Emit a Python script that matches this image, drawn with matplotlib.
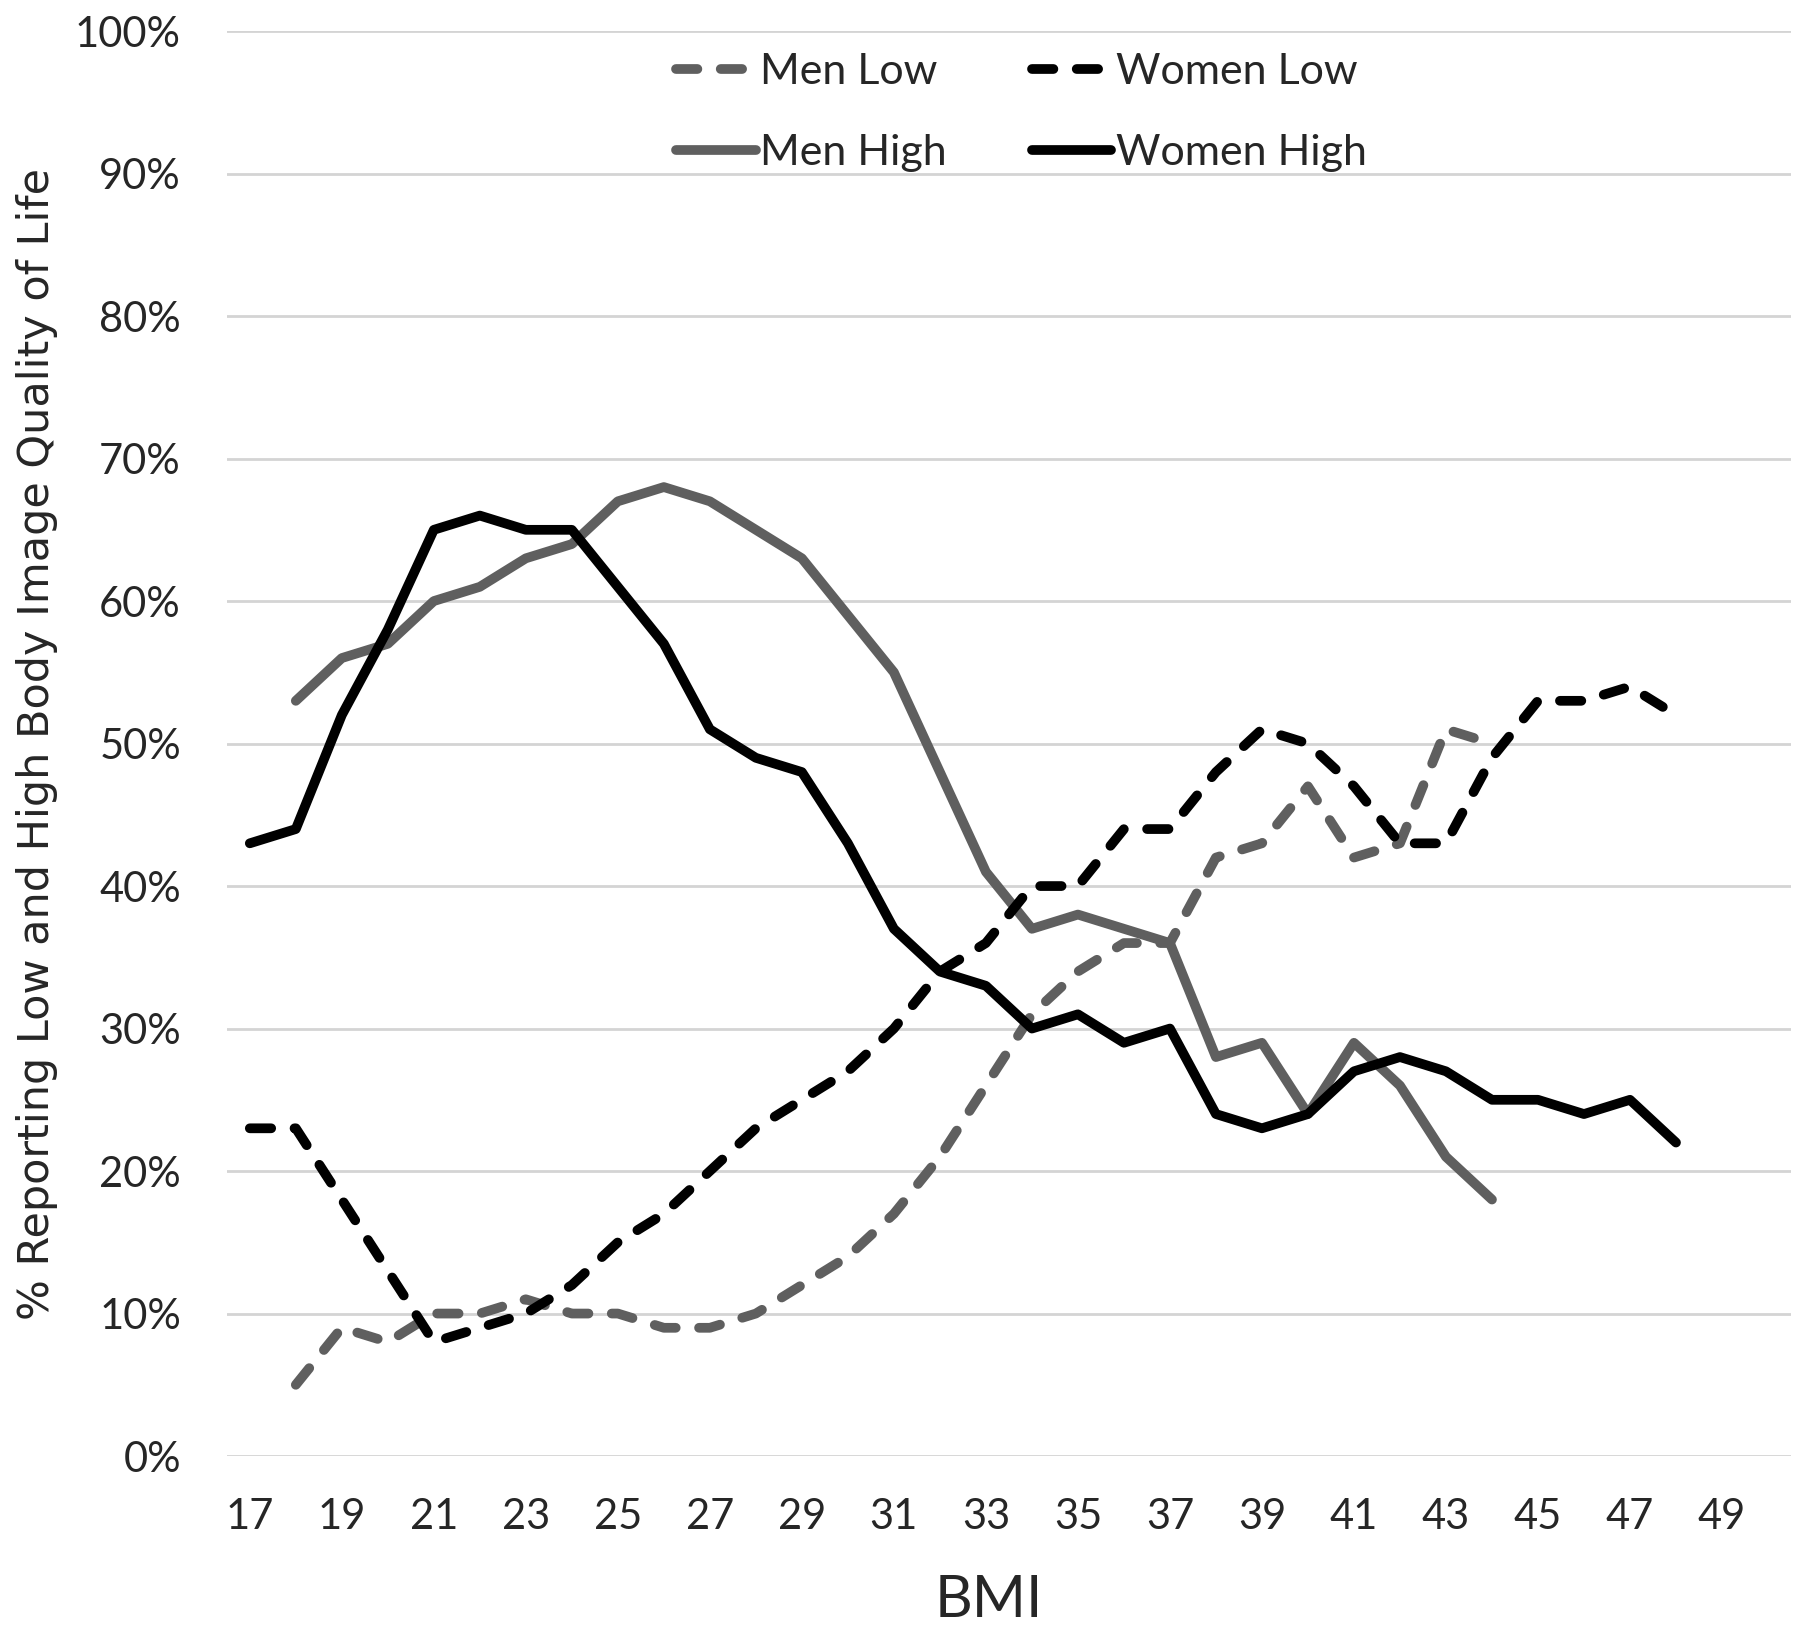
import numpy as np
import matplotlib
matplotlib.use('Agg')
from matplotlib import pyplot as plt

plt.rcParams['font.family'] = ['Lato', 'DejaVu Sans']

bmi = np.arange(17, 51)
nan = np.nan

# % reporting, BMI 17..50 (nan = no data)
men_low = [nan, 5, 9, 8, 10, 10, 11, 10, 10, 9, 9, 10, 12, 14, 17, 21, 26, 31, 34, 36,
           36, 42, 43, 47, 42, 43, 51, 50, nan, nan, nan, nan, nan, nan]
women_low = [23, 23, 18, 13, 8, 9, 10, 12, 15, 17, 20, 23, 25, 27, 30, 34, 36, 40, 40, 44,
             44, 48, 51, 50, 47, 43, 43, 49, 53, 53, 54, 52, nan, nan]
men_high = [nan, 53, 56, 57, 60, 61, 63, 64, 67, 68, 67, 65, 63, 59, 55, 48, 41, 37, 38, 37,
            36, 28, 29, 24, 29, 26, 21, 18, nan, nan, nan, nan, nan, nan]
women_high = [43, 44, 52, 58, 65, 66, 65, 65, 61, 57, 51, 49, 48, 43, 37, 34, 33, 30, 31, 29,
              30, 24, 23, 24, 27, 28, 27, 25, 25, 24, 25, 22, nan, nan]

gray = '#5f5f5f'
txt = '#262626'
lw = 7
dash = (0, (2.2, 2.4))

fig = plt.figure(figsize=(18, 16.36), dpi=100)
ax = fig.add_axes([0.126, 0.110, 0.869, 0.871])

ax.plot(bmi, men_low, color=gray, lw=lw, ls=dash, dash_capstyle='round',
        label='Men Low', zorder=3)
ax.plot(bmi, men_high, color=gray, lw=lw, solid_capstyle='round', label='Men High', zorder=3)
ax.plot(bmi, women_low, color='black', lw=lw, ls=dash, dash_capstyle='round',
        label='Women Low', zorder=4)
ax.plot(bmi, women_high, color='black', lw=lw, solid_capstyle='round', label='Women High', zorder=4)

ax.set_xlim(16.5, 50.5)
ax.set_ylim(0, 100)
ax.set_yticks(np.arange(0, 101, 10))
ax.set_yticklabels([f'{v}%' for v in range(0, 101, 10)])
ax.set_xticks(np.arange(17, 50, 2))
ax.tick_params(length=0, labelsize=30, colors=txt)
ax.tick_params(axis='y', pad=33)
ax.tick_params(axis='x', pad=30)
ax.grid(axis='y', color='#d4d4d4', lw=2)
ax.set_axisbelow(True)
for s in ax.spines.values():
    s.set_visible(False)

ax.set_xlabel('BMI', fontsize=42, color=txt)
ax.xaxis.set_label_coords(0.487, -0.083)
ax.set_ylabel('% Reporting Low and High Body Image Quality of Life', fontsize=31,
              color=txt, labelpad=12, family='DejaVu Sans')

ax.legend(ncol=2, loc='upper left', bbox_to_anchor=(0.2735, 1.0), frameon=False,
          borderpad=0, fontsize=31, handlelength=1.85, handletextpad=0.1,
          columnspacing=1.97, labelspacing=1.0, labelcolor=txt)

fig.savefig('out.png', dpi=100)
